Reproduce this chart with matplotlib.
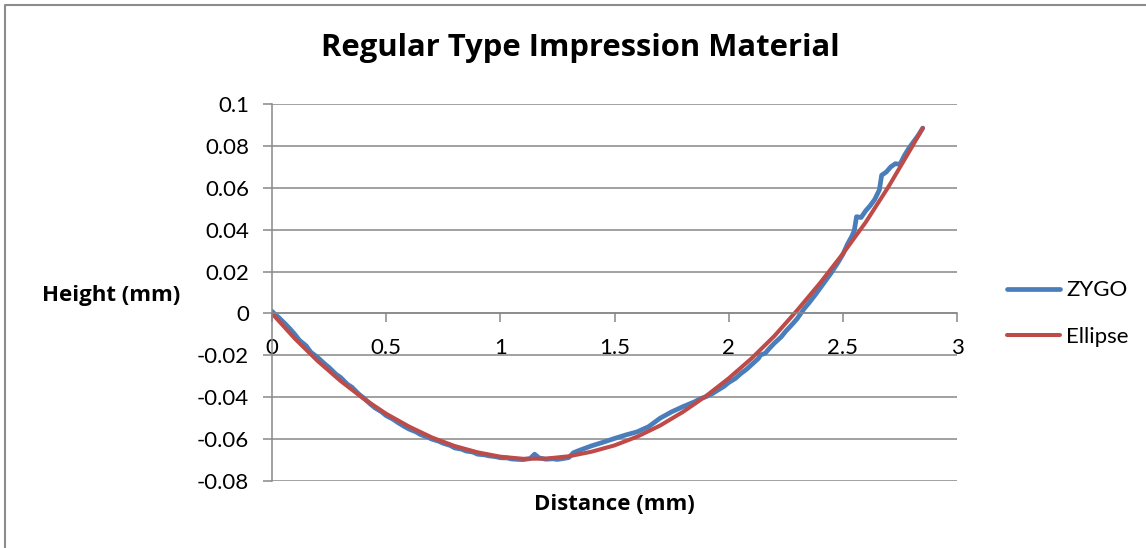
import matplotlib
matplotlib.use('Agg')
import matplotlib.pyplot as plt
from matplotlib.lines import Line2D

# measured profile (ZYGO)
zygo_x = [0.00, 0.03, 0.06, 0.08, 0.10, 0.12, 0.15, 0.17, 0.20, 0.23, 0.25, 0.28,
          0.30, 0.33, 0.35, 0.38, 0.40, 0.43, 0.45, 0.48, 0.50, 0.53, 0.55, 0.58,
          0.60, 0.63, 0.65, 0.68, 0.70, 0.73, 0.75, 0.78, 0.80, 0.83, 0.85, 0.88,
          0.90, 0.93, 0.95, 0.98, 1.00, 1.03, 1.05, 1.08, 1.10, 1.13, 1.15, 1.17,
          1.20, 1.23, 1.25, 1.28, 1.30, 1.32, 1.35, 1.40, 1.45, 1.50, 1.55, 1.60,
          1.65, 1.70, 1.75, 1.80, 1.85, 1.88, 1.90, 1.93, 1.95, 1.98, 2.00, 2.03,
          2.05, 2.08, 2.10, 2.13, 2.14, 2.16, 2.18, 2.20, 2.23, 2.25, 2.28, 2.30,
          2.33, 2.35, 2.38, 2.40, 2.43, 2.45, 2.48, 2.50, 2.52, 2.54, 2.55, 2.56,
          2.58, 2.60, 2.62, 2.64, 2.66, 2.67, 2.69, 2.71, 2.73, 2.75, 2.77, 2.79,
          2.81, 2.83, 2.85]
zygo_y = [0.0010, -0.0020, -0.0052, -0.0075, -0.0100, -0.0128, -0.0155, -0.0185,
          -0.0210, -0.0240, -0.0258, -0.0290, -0.0305, -0.0338, -0.0352, -0.0385,
          -0.0402, -0.0432, -0.0450, -0.0470, -0.0488, -0.0505, -0.0520, -0.0540,
          -0.0552, -0.0565, -0.0578, -0.0590, -0.0600, -0.0610, -0.0620, -0.0630,
          -0.0642, -0.0648, -0.0657, -0.0662, -0.0672, -0.0675, -0.0680, -0.0684,
          -0.0689, -0.0690, -0.0695, -0.0697, -0.0698, -0.0693, -0.0672, -0.0690,
          -0.0696, -0.0694, -0.0697, -0.0692, -0.0688, -0.0665, -0.0652, -0.0632,
          -0.0615, -0.0597, -0.0580, -0.0565, -0.0540, -0.0500, -0.0470, -0.0445,
          -0.0422, -0.0405, -0.0398, -0.0382, -0.0368, -0.0348, -0.0330, -0.0310,
          -0.0290, -0.0265, -0.0245, -0.0215, -0.0198, -0.0190, -0.0165, -0.0142,
          -0.0112, -0.0085, -0.0050, -0.0025, 0.0022, 0.0048, 0.0090, 0.0120,
          0.0165, 0.0195, 0.0245, 0.0282, 0.0330, 0.0370, 0.0395, 0.0462,
          0.0458, 0.0490, 0.0515, 0.0545, 0.0590, 0.0660, 0.0675, 0.0700,
          0.0715, 0.0712, 0.0755, 0.0790, 0.0820, 0.0850, 0.0885]

# fitted ellipse
ellipse_x = [0.0, 0.1, 0.2, 0.3, 0.4, 0.5, 0.6, 0.7, 0.8, 0.9, 1.0, 1.1, 1.2, 1.3,
             1.4, 1.5, 1.6, 1.7, 1.8, 1.9, 2.0, 2.1, 2.2, 2.3, 2.4, 2.5, 2.6, 2.7,
             2.8, 2.85]
ellipse_y = [0.0000, -0.0120, -0.0227, -0.0322, -0.0406, -0.0479, -0.0540, -0.0592,
             -0.0633, -0.0663, -0.0684, -0.0694, -0.0693, -0.0682, -0.0660, -0.0630,
             -0.0588, -0.0535, -0.0470, -0.0395, -0.0310, -0.0215, -0.0108, 0.0015,
             0.0145, 0.0285, 0.0435, 0.0605, 0.0790, 0.0885]

x_ticks = [0, 0.5, 1, 1.5, 2, 2.5, 3]
x_tick_labels = ['0', '0.5', '1', '1.5', '2', '2.5', '3']
y_ticks = [-0.08, -0.06, -0.04, -0.02, 0, 0.02, 0.04, 0.06, 0.08, 0.1]
y_tick_labels = ['-0.08', '-0.06', '-0.04', '-0.02', '0', '0.02', '0.04', '0.06', '0.08', '0.1']

plt.rcParams['font.family'] = ['Lato', 'DejaVu Sans']
bold_font = ['Open Sans', 'DejaVu Sans']
grid_col = '#888888'

fig = plt.figure(figsize=(11.46, 5.48), dpi=100)
ax = fig.add_axes([272 / 1146, 1 - 481 / 548, (957 - 272) / 1146, (481 - 104) / 548])

ax.plot(zygo_x, zygo_y, color='#4A7EBB', lw=3.4, label='ZYGO', solid_capstyle='round')
ax.plot(ellipse_x, ellipse_y, color='#BE4B48', lw=2.9, label='Ellipse', solid_capstyle='round')

ax.set_xlim(0, 3)
ax.set_ylim(-0.08, 0.1)
ax.set_xticks(x_ticks)
ax.set_xticklabels(x_tick_labels)
ax.set_yticks(y_ticks)
ax.set_yticklabels(y_tick_labels)

ax.grid(axis='y', color=grid_col, lw=1.1)
ax.set_axisbelow(True)
for s in ['top', 'right']:
    ax.spines[s].set_visible(False)
ax.spines['bottom'].set_position(('data', 0))
ax.spines['bottom'].set_color(grid_col)
ax.spines['left'].set_color(grid_col)
ax.spines['bottom'].set_linewidth(1.1)
ax.spines['left'].set_linewidth(1.1)
ax.tick_params(axis='both', colors=grid_col, width=1.1, length=6.5, labelcolor='black', labelsize=16)
ax.tick_params(axis='x', pad=11)
ax.tick_params(axis='y', pad=10)

fig.text(580 / 1146, 1 - 48 / 548, 'Regular Type Impression Material', family=bold_font,
         fontsize=22.3, fontweight='bold', ha='center', va='center')
fig.text(111 / 1146, 1 - 296 / 548, 'Height (mm)', family=bold_font, fontsize=16,
         fontweight='bold', ha='center', va='center')
fig.text(614 / 1146, 1 - 505 / 548, 'Distance (mm)', family=bold_font, fontsize=16,
         fontweight='bold', ha='center', va='center')

leg = ax.legend(loc='center left', bbox_to_anchor=(1.044, 0.444), frameon=False,
                fontsize=16, handlelength=2.4, handletextpad=0.25, labelspacing=1.2)

# chart area border
fig.add_artist(Line2D([5 / 1146, 5 / 1146, 1.0], [0.0, 1 - 5 / 548, 1 - 5 / 548],
                      transform=fig.transFigure, color='#8c8c8c', lw=1.5))

fig.savefig('out.png', dpi=100)
